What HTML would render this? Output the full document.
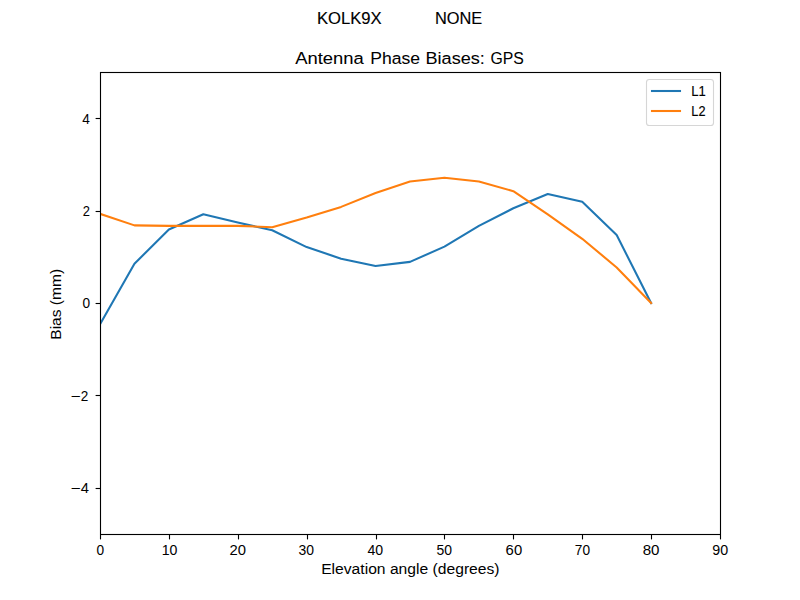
<!DOCTYPE html>
<html><head><meta charset="utf-8"><style>
html,body{margin:0;padding:0;background:#fff;width:800px;height:600px;overflow:hidden}
svg{display:block}
text{font-family:"Liberation Sans", sans-serif;fill:#000}
</style></head><body>
<svg width="800" height="600" viewBox="0 0 800 600">
<defs><clipPath id="c"><rect x="100" y="72" width="620" height="462"/></clipPath></defs>
<rect width="800" height="600" fill="#fff"/>
<text x="316.92" y="23.50" font-size="16.7" textLength="64.74" lengthAdjust="spacingAndGlyphs" stroke="#000" stroke-width="0.15">KOLK9X</text>
<text x="434.95" y="23.50" font-size="16.7" textLength="47.34" lengthAdjust="spacingAndGlyphs" stroke="#000" stroke-width="0.15">NONE</text>
<text x="295.22" y="64.40" font-size="16.7" textLength="68.54" lengthAdjust="spacingAndGlyphs" stroke="#000" stroke-width="0.06">Antenna</text>
<text x="370.36" y="64.40" font-size="16.7" textLength="49.78" lengthAdjust="spacingAndGlyphs" stroke="#000" stroke-width="0.06">Phase</text>
<text x="425.49" y="64.40" font-size="16.7" textLength="59.36" lengthAdjust="spacingAndGlyphs" stroke="#000" stroke-width="0.06">Biases:</text>
<text x="490.50" y="64.40" font-size="16.7" textLength="33.34" lengthAdjust="spacingAndGlyphs" stroke="#000" stroke-width="0.06">GPS</text>
<g clip-path="url(#c)">
<path d="M100.00,324.25 L134.44,263.73 L168.89,229.54 L203.33,214.30 L237.78,222.61 L272.22,230.24 L306.67,247.10 L341.11,258.65 L375.56,266.04 L410.00,261.88 L444.44,246.64 L478.89,225.85 L513.33,208.29 L547.78,193.97 L582.22,201.82 L616.67,235.09 L651.11,303.00" fill="none" stroke="#1f77b4" stroke-width="2.08" stroke-linejoin="round" stroke-linecap="square"/>
<path d="M100.00,213.83 L134.44,225.38 L168.89,225.85 L203.33,225.85 L237.78,225.85 L272.22,227.23 L306.67,217.53 L341.11,206.90 L375.56,193.04 L410.00,181.49 L444.44,177.80 L478.89,181.49 L513.33,191.20 L547.78,214.30 L582.22,238.78 L616.67,267.43 L651.11,303.00" fill="none" stroke="#ff7f0e" stroke-width="2.08" stroke-linejoin="round" stroke-linecap="square"/>
</g>
<rect x="100.5" y="72.5" width="620" height="462" fill="none" stroke="#000" stroke-width="1.11"/>
<line x1="100.50" y1="534.5" x2="100.50" y2="539.4" stroke="#000" stroke-width="1.11"/>
<text x="96.53" y="555.30" font-size="14" textLength="7.63" lengthAdjust="spacingAndGlyphs">0</text>
<line x1="169.50" y1="534.5" x2="169.50" y2="539.4" stroke="#000" stroke-width="1.11"/>
<text x="161.71" y="555.30" font-size="14" textLength="15.73" lengthAdjust="spacingAndGlyphs">10</text>
<line x1="238.50" y1="534.5" x2="238.50" y2="539.4" stroke="#000" stroke-width="1.11"/>
<text x="229.64" y="555.30" font-size="14" textLength="16.49" lengthAdjust="spacingAndGlyphs">20</text>
<line x1="307.50" y1="534.5" x2="307.50" y2="539.4" stroke="#000" stroke-width="1.11"/>
<text x="298.55" y="555.30" font-size="14" textLength="15.51" lengthAdjust="spacingAndGlyphs">30</text>
<line x1="376.50" y1="534.5" x2="376.50" y2="539.4" stroke="#000" stroke-width="1.11"/>
<text x="367.44" y="555.30" font-size="14" textLength="15.70" lengthAdjust="spacingAndGlyphs">40</text>
<line x1="444.50" y1="534.5" x2="444.50" y2="539.4" stroke="#000" stroke-width="1.11"/>
<text x="436.57" y="555.30" font-size="14" textLength="15.54" lengthAdjust="spacingAndGlyphs">50</text>
<line x1="513.50" y1="534.5" x2="513.50" y2="539.4" stroke="#000" stroke-width="1.11"/>
<text x="505.62" y="555.30" font-size="14" textLength="16.54" lengthAdjust="spacingAndGlyphs">60</text>
<line x1="582.50" y1="534.5" x2="582.50" y2="539.4" stroke="#000" stroke-width="1.11"/>
<text x="574.80" y="555.30" font-size="14" textLength="15.23" lengthAdjust="spacingAndGlyphs">70</text>
<line x1="651.50" y1="534.5" x2="651.50" y2="539.4" stroke="#000" stroke-width="1.11"/>
<text x="642.68" y="555.30" font-size="14" textLength="16.82" lengthAdjust="spacingAndGlyphs">80</text>
<line x1="720.50" y1="534.5" x2="720.50" y2="539.4" stroke="#000" stroke-width="1.11"/>
<text x="712.23" y="555.30" font-size="14" textLength="15.87" lengthAdjust="spacingAndGlyphs">90</text>
<line x1="100.5" y1="488.50" x2="95.6" y2="488.50" stroke="#000" stroke-width="1.11"/>
<text x="80.82" y="493.00" font-size="14" textLength="8.21" lengthAdjust="spacingAndGlyphs">4</text>
<text x="70.52" y="493.00" font-size="14" textLength="9.94" lengthAdjust="spacingAndGlyphs">−</text>
<line x1="100.5" y1="395.50" x2="95.6" y2="395.50" stroke="#000" stroke-width="1.11"/>
<text x="80.70" y="401.00" font-size="14" textLength="7.54" lengthAdjust="spacingAndGlyphs">2</text>
<text x="70.52" y="401.00" font-size="14" textLength="9.94" lengthAdjust="spacingAndGlyphs">−</text>
<line x1="100.5" y1="303.50" x2="95.6" y2="303.50" stroke="#000" stroke-width="1.11"/>
<text x="82.54" y="308.00" font-size="14" textLength="7.61" lengthAdjust="spacingAndGlyphs">0</text>
<line x1="100.5" y1="211.50" x2="95.6" y2="211.50" stroke="#000" stroke-width="1.11"/>
<text x="82.80" y="216.00" font-size="14" textLength="7.21" lengthAdjust="spacingAndGlyphs">2</text>
<line x1="100.5" y1="118.50" x2="95.6" y2="118.50" stroke="#000" stroke-width="1.11"/>
<text x="82.34" y="124.00" font-size="14" textLength="7.60" lengthAdjust="spacingAndGlyphs">4</text>
<text x="321.16" y="574.30" font-size="14" textLength="178.39" lengthAdjust="spacingAndGlyphs">Elevation angle (degrees)</text>
<text transform="translate(61.20,339.70) rotate(-90)" font-size="14" textLength="70.80" lengthAdjust="spacingAndGlyphs">Bias (mm)</text>
<rect x="646.5" y="79.5" width="67" height="46" rx="2.8" ry="2.8" fill="#fff" fill-opacity="0.8" stroke="#d6d6d6" stroke-width="1.11"/>
<line x1="652" y1="91" x2="680" y2="91" stroke="#1f77b4" stroke-width="2.08" stroke-linecap="square"/>
<line x1="652" y1="111" x2="680" y2="111" stroke="#ff7f0e" stroke-width="2.08" stroke-linecap="square"/>
<text x="691.24" y="96.00" font-size="14" textLength="14.50" lengthAdjust="spacingAndGlyphs" stroke="#000" stroke-width="0.15">L1</text>
<text x="691.32" y="116.00" font-size="14" textLength="14.16" lengthAdjust="spacingAndGlyphs" stroke="#000" stroke-width="0.15">L2</text>
</svg></body></html>
